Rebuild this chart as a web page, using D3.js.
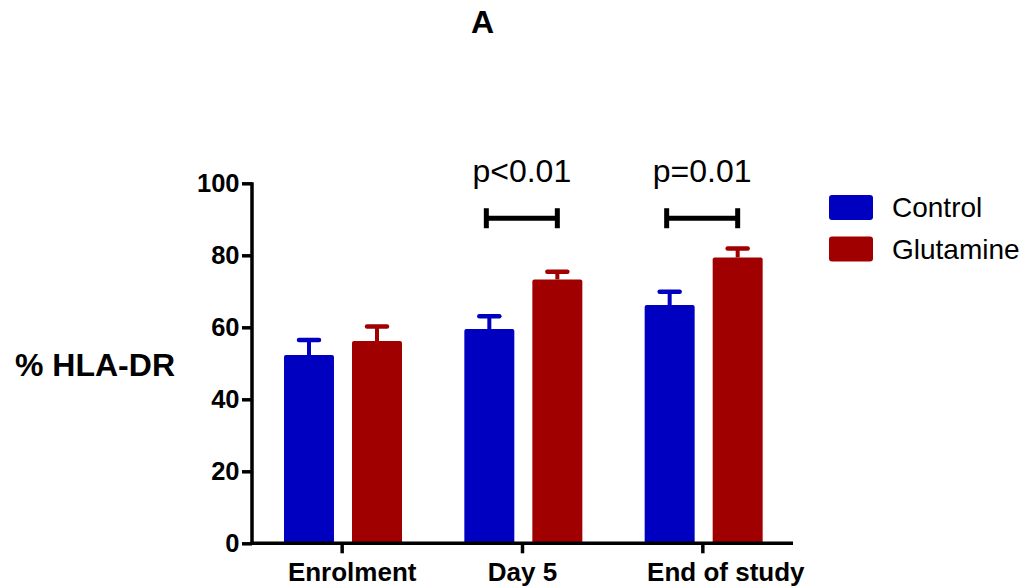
<!DOCTYPE html>
<html>
<head>
<meta charset="utf-8">
<script src="https://cdn.jsdelivr.net/npm/d3@7"></script>
<style>
    body { margin: 0; background: #fff; }
    text { font-family: "Liberation Sans", Arial, sans-serif; }
</style>
</head>
<body>
<div id="chart"></div>
<script>
// data
let categories = ["Enrolment", "Day 5", "End of study"];
let groups = ["Control", "Glutamine"];
let controlMeans = [52.3, 59.5, 66.2];
let controlErr = [4.2, 3.6, 3.7];
let glutamineMeans = [56.2, 73.3, 79.4];
let glutamineErr = [4.0, 2.1, 2.5];
let yTicks = [0, 20, 40, 60, 80, 100];
let sigLabels = [null, "p<0.01", "p=0.01"];
let sigLevel = [null, 90.3, 90.3];

let colors = {Control: "#0000c0", Glutamine: "#a00000"};

let margin = {top: 183.3, left: 252};
let width = 1029, height = 588;
let plotW = 541, plotH = 360;

let svg = d3.select("#chart").append("svg")
    .attr("width", width)
    .attr("height", height);

let g = svg.append("g")
    .attr("transform", `translate(${margin.left}, ${margin.top})`);

// scales
let x = d3.scaleBand()
    .domain(categories)
    .range([0, plotW])
    .padding(0);

let x1 = d3.scaleBand()
    .domain(groups)
    .range([32, 150])
    .paddingInner(0.265)
    .paddingOuter(0);

let y = d3.scaleLinear()
    .domain([0, 100])
    .range([plotH, 0]);

// build table for drawing
let rows = [];
categories.forEach(function(c, i) {
    rows.push({cat: c, group: "Control", mean: controlMeans[i], err: controlErr[i]});
    rows.push({cat: c, group: "Glutamine", mean: glutamineMeans[i], err: glutamineErr[i]});
});

// error bars (upper only)
let errG = g.append("g");
rows.forEach(function(d) {
    let cx = x(d.cat) + x1(d.group) + x1.bandwidth() / 2;
    errG.append("line")
        .attr("x1", cx).attr("x2", cx)
        .attr("y1", y(d.mean)).attr("y2", y(d.mean + d.err))
        .attr("stroke", colors[d.group])
        .attr("stroke-width", 4);
    errG.append("line")
        .attr("x1", cx - 10).attr("x2", cx + 10)
        .attr("y1", y(d.mean + d.err)).attr("y2", y(d.mean + d.err))
        .attr("stroke", colors[d.group])
        .attr("stroke-width", 4.5)
        .attr("stroke-linecap", "round");
});

// bars
g.selectAll("rect.bar")
    .data(rows)
    .enter()
    .append("rect")
    .attr("class", "bar")
    .attr("x", d => x(d.cat) + x1(d.group))
    .attr("y", d => y(d.mean))
    .attr("width", x1.bandwidth())
    .attr("height", d => y(0) - y(d.mean))
    .attr("rx", 2)
    .style("fill", d => colors[d.group]);

// axes
let yAxis = d3.axisLeft(y)
    .tickValues(yTicks)
    .tickSize(10)
    .tickPadding(2.5);

let xAxis = d3.axisBottom(x)
    .tickSize(10)
    .tickPadding(9)
    .tickSizeOuter(0);

let yAxisGroup = g.append("g")
    .attr("class", "y-axis axis")
    .call(yAxis);

let xAxisGroup = g.append("g")
    .attr("class", "x-axis axis")
    .attr("transform", "translate(0," + plotH + ")")
    .call(xAxis);

yAxisGroup.select(".domain").attr("d", `M0,${-1}V${plotH + 1.5}`);
xAxisGroup.select(".domain").attr("d", `M-1.5,0H${plotW}`);

[yAxisGroup, xAxisGroup].forEach(function(ax) {
    ax.select(".domain").attr("stroke", "#000").attr("stroke-width", 3.5);
    ax.selectAll(".tick line").attr("stroke", "#000").attr("stroke-width", 3.5);
    ax.selectAll(".tick text")
        .attr("fill", "#000")
        .style("font-weight", "bold")
        .style("font-family", "'Liberation Sans', Arial, sans-serif");
});
yAxisGroup.selectAll(".tick text").style("font-size", "25.5px");

// the original labels sit a little right of their ticks
let labelShift = {"Enrolment": 10, "Day 5": 0, "End of study": 23};
xAxisGroup.selectAll(".tick text")
    .style("font-size", "26px")
    .attr("dx", d => labelShift[d]);

// significance brackets
categories.forEach(function(c, i) {
    if (!sigLabels[i]) return;
    let xa = x(c) + x1("Control") + x1.bandwidth() / 2 - 3;
    let xb = x(c) + x1("Glutamine") + x1.bandwidth() / 2;
    let yy = y(sigLevel[i]);
    let sg = g.append("g").attr("stroke", "#000").attr("stroke-width", 5);
    sg.append("line").attr("x1", xa).attr("x2", xb).attr("y1", yy).attr("y2", yy);
    sg.append("line").attr("x1", xa).attr("x2", xa).attr("y1", yy - 10).attr("y2", yy + 10);
    sg.append("line").attr("x1", xb).attr("x2", xb).attr("y1", yy - 10).attr("y2", yy + 10);

    g.append("text")
        .attr("x", (xa + xb) / 2)
        .attr("y", -1.5)
        .attr("text-anchor", "middle")
        .style("font-size", "32px")
        .text(sigLabels[i]);
});

// y-Axis title
svg.append("text")
    .attr("x", 15)
    .attr("y", 375.5)
    .style("font-size", "32px")
    .style("font-weight", "bold")
    .text("% HLA-DR");

// chart title
svg.append("text")
    .attr("x", 482.5)
    .attr("y", 33)
    .attr("text-anchor", "middle")
    .style("font-size", "32px")
    .style("font-weight", "bold")
    .text("A");

// legend
let legend = svg.append("g")
    .attr("transform", "translate(829, 195)");

groups.forEach(function(grp, i) {
    legend.append("rect")
        .attr("x", 0)
        .attr("y", i * 41.5)
        .attr("width", 44)
        .attr("height", 25)
        .attr("rx", 3)
        .style("fill", colors[grp]);
    legend.append("text")
        .attr("x", 63)
        .attr("y", i * 41.5 + 22)
        .style("font-size", "28px")
        .text(grp);
});
</script>
</body>
</html>
